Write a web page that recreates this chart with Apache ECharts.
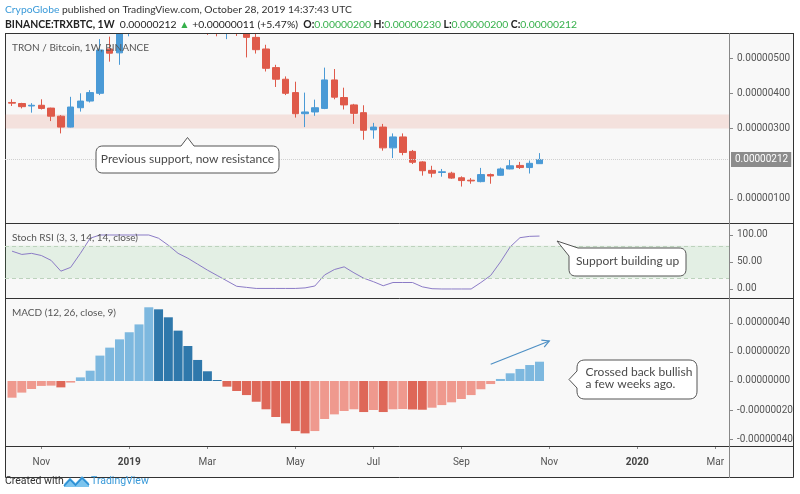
<!DOCTYPE html>
<html><head><meta charset="utf-8">
<script src="https://cdn.jsdelivr.net/npm/echarts@6/dist/echarts.min.js"></script>
<style>html,body{margin:0;padding:0;background:#fff}#c{width:800px;height:494px}</style>
</head><body><div id="c"></div>
<script>
// ---- data (prices in satoshi = 1e-8 BTC) ----
const firstWeek = '2018-10-15';
const opens  = [374,371,364,366,358,335,304,359,378,400,526,515,572,650,700,670,690,660,640,655,640,610,600,615,592,559,526,473,440,402,342,347,357,438,388,367,345,296,304,245,276,235,205,181,175,173,160,153,149,169,167,185,195,189,200];
const closes = [372,362,366,357,335,304,361,378,402,523,514,575,650,700,670,690,660,640,655,640,610,600,615,595,559,524,471,440,400,342,347,359,438,389,367,343,295,304,245,276,232,204,180,173,177,159,152,151,169,165,185,194,189,201,212];
const lows   = [364,357,345,354,321,286,303,348,374,395,490,481,562,620,640,650,630,600,610,600,566,562,554,563,502,513,462,418,395,331,304,336,355,383,354,313,268,271,237,216,224,199,166,161,163,157,135,143,147,143,166,184,185,172,200];
const highs  = [383,373,372,383,359,338,390,400,409,554,561,620,700,760,730,720,710,690,700,680,660,630,640,630,605,569,538,481,448,433,402,382,473,469,416,370,366,316,313,286,286,239,207,194,185,177,164,159,188,172,189,211,205,209,230];
const stochRsi = [70,64,66,62,53,33,40,66,94,100,100,100,100,100,100,94,81,66,57,46,35,25,15,5,3,1,1,1,1,1,2,5.5,26,36,41,30,20,13.5,6,12,12,12,4,0.5,0,0,0,0,12,25,50,78,95,97.5,98];
const macdHist = [-11.5,-8,-5.5,-3.4,-3.2,-4.4,-1.1,2.5,7.1,17.5,23,28.7,33.6,39,50.8,49.4,43.9,34.7,24.1,14.5,6.7,0.7,-3.9,-6.9,-9.7,-14.3,-19.5,-24.8,-29.2,-34.5,-36.1,-34.5,-26.2,-23,-20.7,-19.5,-21.4,-20,-21.4,-19.5,-19.3,-19.6,-19.8,-18.4,-16.6,-14.7,-12.4,-9.7,-5.7,-2.1,1.4,5.3,8.3,11,13.3];
const resistanceZone = [300, 340];
const rsiBand = [20, 80];
const priceTicks = [100, 300, 400, 500];
const rsiTicks = [0, 50, 100];
const macdTicks = [-40, -20, 0, 20, 40];
const xTickDates  = ['2018-11-05','2019-01-07','2019-03-04','2019-05-06','2019-07-01','2019-09-02','2019-11-04','2020-01-06','2020-03-02'];
const xTickLabels = ['Nov','2019','Mar','May','Jul','Sep','Nov','2020','Mar'];

// ---- helpers ----
const WEEK = 7*864e5;
const weekIdx = d => Math.round((Date.parse(d) - Date.parse(firstWeek)) / WEEK);
const xTickIdx = xTickDates.map(weekIdx);
const fmt8 = v => (v*1e-8).toFixed(8);
const BLUE = '#4a9ad6', RED = '#df5a4a';
const N = closes.length, last = N-1;
const chg = closes[last]-closes[last-1];
const pct = chg/closes[last-1]*100;
const XMIN = -0.72, XMAX = 73.4;

const macdData = macdHist.map((v,i)=>{
  const prev = i>0 ? macdHist[i-1] : null;
  let c;
  if (v >= 0) c = (prev===null || v >= prev) ? '#7db8df' : '#2f78ab';
  else c = (prev===null || v >= prev) ? '#ef998e' : '#de6758';
  return {value:[i,v], itemStyle:{color:c}};
});

const axisLbl = {color:'#555', fontFamily:'Roboto', fontSize:10, margin:8};
const tickSt = {show:true, length:4, lineStyle:{color:'#888'}};
const noLine = {show:false, onZero:false};

function arrowHead(x0,y0,x1,y1,len,ang){
  const a = Math.atan2(y0-y1, x0-x1);
  return [[x1+len*Math.cos(a+ang), y1+len*Math.sin(a+ang)],[x1,y1],[x1+len*Math.cos(a-ang), y1+len*Math.sin(a-ang)]];
}
// polygon with rounded corners: verts = [[x,y,r],...]
function roundPoly(verts){
  const out = [];
  const n = verts.length;
  for (let i=0;i<n;i++){
    const V = verts[i], r = V[2]||0;
    if (!r){ out.push([V[0],V[1]]); continue; }
    const P = verts[(i-1+n)%n], Q = verts[(i+1)%n];
    const dp = Math.hypot(P[0]-V[0],P[1]-V[1]), dq = Math.hypot(Q[0]-V[0],Q[1]-V[1]);
    const A = [V[0]+(P[0]-V[0])*r/dp, V[1]+(P[1]-V[1])*r/dp];
    const B = [V[0]+(Q[0]-V[0])*r/dq, V[1]+(Q[1]-V[1])*r/dq];
    for (let k=0;k<=8;k++){
      const t=k/8, u=1-t;
      out.push([u*u*A[0]+2*u*t*V[0]+t*t*B[0], u*u*A[1]+2*u*t*V[1]+t*t*B[1]]);
    }
  }
  return out;
}

const chart = echarts.init(document.getElementById('c'), null, {renderer:'canvas'});
const TXT = '#4a4a4a';
const FONT = 'Lato, "Open Sans", sans-serif';

chart.setOption({
  animation:false,
  backgroundColor:'#fff',
  grid:[
    {left:5, top:33, width:724, height:190},
    {left:5, top:223, width:724, height:75},
    {left:5, top:298, width:724, height:148}
  ],
  xAxis:[
    {gridIndex:0, type:'value', min:XMIN, max:XMAX, show:false, axisLine:noLine},
    {gridIndex:1, type:'value', min:XMIN, max:XMAX, show:false, axisLine:noLine},
    {gridIndex:2, type:'value', position:'bottom', min:XMIN, max:XMAX, splitLine:{show:false},
     axisLine:noLine,
     axisTick:{show:true, customValues:xTickIdx, length:3, lineStyle:{color:'#888'}},
     axisLabel:{customValues:xTickIdx, color:'#555', fontFamily:'Roboto', fontSize:10, margin:11,
       formatter:v=>{const t=xTickLabels[xTickIdx.indexOf(v)]||''; return /^\d{4}$/.test(t)?'{y|'+t+'}':t;},
       rich:{y:{fontWeight:'bold', fontFamily:'Roboto', fontSize:10, color:'#444'}}}}
  ],
  yAxis:[
    {gridIndex:0, type:'value', position:'right', min:31.4, max:571.4, splitLine:{show:false}, axisLine:noLine,
     axisTick:Object.assign({customValues:priceTicks}, tickSt),
     axisLabel:Object.assign({customValues:priceTicks, formatter:fmt8}, axisLbl)},
    {gridIndex:1, type:'value', position:'right', min:-16.7, max:122.2, splitLine:{show:false}, axisLine:noLine,
     axisTick:Object.assign({customValues:rsiTicks}, tickSt),
     axisLabel:Object.assign({customValues:rsiTicks, formatter:v=>v.toFixed(2)}, axisLbl)},
    {gridIndex:2, type:'value', position:'right', min:-44.8, max:57.2, splitLine:{show:false}, axisLine:noLine,
     axisTick:Object.assign({customValues:macdTicks}, tickSt),
     axisLabel:Object.assign({customValues:macdTicks, formatter:fmt8}, axisLbl)}
  ],
  series:[
    {type:'candlestick', xAxisIndex:0, yAxisIndex:0, barWidth:7, clip:true,
     data: opens.map((o,i)=>[i,o,closes[i],lows[i],highs[i]]),
     encode:{x:0, y:[1,2,3,4]},
     itemStyle:{color:BLUE, color0:RED, borderColor:BLUE, borderColor0:RED, borderWidth:1},
     markArea:{silent:true, itemStyle:{color:'rgba(230,120,100,0.18)'},
       data:[[{yAxis:resistanceZone[0]},{yAxis:resistanceZone[1]}]]},
     markLine:{silent:true, symbol:'none', lineStyle:{color:'#d0d0d0', type:'dotted', width:1},
       label:{position:'end', distance:2, formatter:()=>fmt8(closes[last]), backgroundColor:'#8c8c8c', color:'#fff',
         padding:[3,3,2,4], fontFamily:'Roboto', fontSize:10},
       data:[{yAxis:closes[last]}]}
    },
    {type:'line', xAxisIndex:1, yAxisIndex:1, showSymbol:false, symbol:'none', clip:true,
     data: stochRsi.map((v,i)=>[i,v]),
     lineStyle:{color:'#8b7bc6', width:1},
     markArea:{silent:true, itemStyle:{color:'rgba(102,187,106,0.14)'},
       data:[[{yAxis:rsiBand[0]},{yAxis:rsiBand[1]}]]},
     markLine:{silent:true, symbol:'none', label:{show:false}, lineStyle:{color:'#bcd2bc', type:[4,3], width:1},
       data:[{yAxis:rsiBand[0]},{yAxis:rsiBand[1]}]}
    },
    {type:'bar', xAxisIndex:2, yAxisIndex:2, barWidth:9, data: macdData}
  ],
  graphic:[
    {type:'rect', z:-10, silent:true, shape:{x:5.5,y:33.5,width:788,height:444}, style:{fill:'#f8f8f8', stroke:'#333', lineWidth:1}},
    // white cover above the price pane (hides candle parts above the pane top)
    {type:'rect', z:50, silent:true, shape:{x:0,y:0,width:800,height:33}, style:{fill:'#fff'}},
    {type:'line', z:100, silent:true, shape:{x1:5,y1:33.5,x2:794,y2:33.5}, style:{stroke:'#333', lineWidth:1}},
    {type:'line', z:100, silent:true, shape:{x1:5,y1:223.5,x2:794,y2:223.5}, style:{stroke:'#333', lineWidth:1}},
    {type:'line', z:100, silent:true, shape:{x1:5,y1:298.5,x2:794,y2:298.5}, style:{stroke:'#333', lineWidth:1}},
    {type:'line', z:100, silent:true, shape:{x1:5,y1:446.5,x2:794,y2:446.5}, style:{stroke:'#333', lineWidth:1}},
    {type:'line', z:100, silent:true, shape:{x1:729.5,y1:33,x2:729.5,y2:478}, style:{stroke:'#888', lineWidth:1}},
    {type:'text', z:100, x:5, y:10, style:{text:'{a|CrypoGlobe}{t| published on TradingView.com, October 28, 2019 14:37:43 UTC}',
      textVerticalAlign:'middle', rich:{a:{fill:'#3a9ad9', fontSize:10.3, fontFamily:FONT}, t:{fill:'#333', fontSize:10.3, fontFamily:FONT}}}},
    {type:'text', z:100, x:5, y:24.5, style:{
      text:'{b|BINANCE:TRXBTC, 1W}{n|  '+fmt8(closes[last])+' }{g|▲}{n| +'+fmt8(chg)+' (+'+pct.toFixed(2)+'%)  }{b|O:}{g|'+fmt8(opens[last])+'}{b| H:}{g|'+fmt8(highs[last])+'}{b| L:}{g|'+fmt8(lows[last])+'}{b| C:}{g|'+fmt8(closes[last])+'}',
      textVerticalAlign:'middle',
      rich:{b:{fill:'#222', fontWeight:'bold', fontSize:10.4, fontFamily:FONT}, n:{fill:'#222', fontSize:10.4, fontFamily:FONT}, g:{fill:'#35b04a', fontSize:10.4, fontFamily:FONT}}}},
    {type:'text', z:100, x:12, y:48, style:{text:'TRON / Bitcoin, 1W, BINANCE', fill:'#555', font:'10px '+FONT, textVerticalAlign:'middle'}},
    {type:'text', z:100, x:12, y:238, style:{text:'Stoch RSI (3, 3, 14, 14, close)', fill:'#555', font:'10px '+FONT, textVerticalAlign:'middle'}},
    {type:'text', z:100, x:12, y:313, style:{text:'MACD (12, 26, close, 9)', fill:'#555', font:'10px '+FONT, textVerticalAlign:'middle'}},
    {type:'polygon', z:100, silent:true, shape:{points:roundPoly([[181,146,0],[187.5,137.5,0],[194,146,0],[279,146,7],[279,173,7],[96,173,7],[96,146,7]])},
     style:{fill:'#fff', stroke:'#555', lineWidth:1}},
    {type:'text', z:101, x:187.5, y:159.5, style:{text:'Previous support, now resistance', fill:TXT, font:'12px '+FONT, textAlign:'center', textVerticalAlign:'middle'}},
    {type:'polygon', z:100, silent:true, shape:{points:roundPoly([[578,248,0],[686,248,7],[686,276,7],[569,276,7],[569,256,0],[557,241,0]])},
     style:{fill:'#fff', stroke:'#555', lineWidth:1}},
    {type:'text', z:101, x:627.5, y:261.5, style:{text:'Support building up', fill:TXT, font:'12px '+FONT, textAlign:'center', textVerticalAlign:'middle'}},
    {type:'polygon', z:100, silent:true, shape:{points:roundPoly([[697,360,8],[697,399,8],[577,399,8],[577,388,0],[569,379.5,0],[577,371,0],[577,360,8]])},
     style:{fill:'#fff', stroke:'#555', lineWidth:1}},
    {type:'text', z:101, x:585.5, y:372.5, style:{text:'Crossed back bullish', fill:TXT, font:'12px '+FONT, textVerticalAlign:'middle'}},
    {type:'text', z:101, x:585.5, y:384, style:{text:'a few weeks ago.', fill:TXT, font:'12px '+FONT, textVerticalAlign:'middle'}},
    {type:'line', z:100, silent:true, shape:{x1:490.7,y1:364.3,x2:549.3,y2:341}, style:{stroke:'#4d8fc4', lineWidth:1.2}},
    {type:'polyline', z:100, silent:true, shape:{points:arrowHead(490.7,364.3,549.3,341,8,0.5)}, style:{stroke:'#4d8fc4', lineWidth:1.2, fill:null}},
    {type:'text', z:100, x:5, y:481, style:{text:'Created with', fill:'#333', font:'10.5px Roboto', textVerticalAlign:'middle'}},
    {type:'polygon', z:100, silent:true, shape:{points:[[64,487],[64,484],[70,477.5],[75.5,483],[82,476],[89,483],[89,487]]}, style:{fill:'#7cc4ee'}},
    {type:'polyline', z:101, silent:true, shape:{points:[[64,486],[70,479.5],[75.5,485],[82,478],[89,485]]}, style:{stroke:'#2c8fd4', lineWidth:1.6, fill:null}},
    {type:'text', z:100, x:91, y:481, style:{text:'TradingView', fill:'#3a9ad9', font:'10.5px Roboto', textVerticalAlign:'middle'}}
  ]
});
</script></body></html>
